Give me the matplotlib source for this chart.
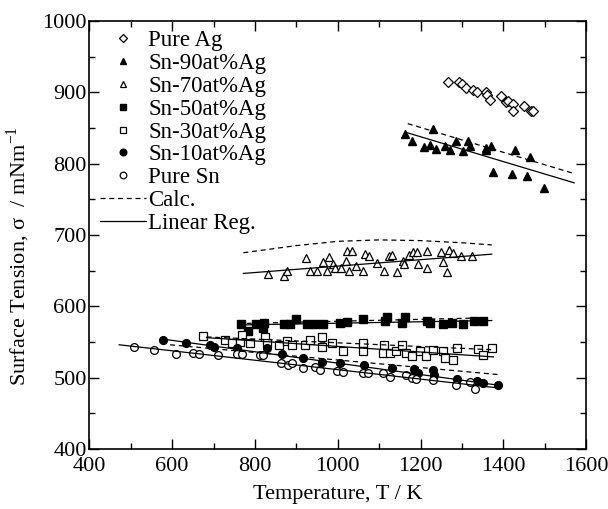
import numpy as np
import matplotlib
matplotlib.use("Agg")
import matplotlib.pyplot as plt
from matplotlib.ticker import MultipleLocator

plt.rcParams['font.family'] = ['Liberation Serif', 'DejaVu Serif']
plt.rcParams['mathtext.fontset'] = 'custom'
plt.rcParams['mathtext.rm'] = 'Liberation Serif'

# measured points (T / K, sigma / mN m^-1)
ag_T = [1266, 1293, 1300, 1310, 1326, 1336, 1358, 1361, 1368, 1394, 1407, 1412, 1423, 1424, 1450, 1466, 1472]
ag_s = [915, 915, 911, 906, 903, 900, 901, 896, 889, 894, 886, 888, 883, 874, 880, 874, 873]

sn90_T = [1163, 1180, 1209, 1223, 1231, 1237, 1260, 1272, 1286, 1303, 1315, 1320, 1357, 1358, 1370,
          1376, 1420, 1428, 1456, 1464, 1499]
sn90_s = [842, 832, 823, 826, 848, 820, 825, 819, 832, 817, 831, 825, 822, 819, 825,
          788, 786, 819, 783, 809, 766]

sn70_T = [831, 869, 877, 923, 933, 951, 964, 973, 980, 989, 993, 1007, 1019, 1023, 1034, 1026, 1043,
          1060, 1066, 1076, 1096, 1112, 1125, 1131, 1144, 1157, 1161, 1173, 1183, 1191, 1195, 1216,
          1216, 1250, 1254, 1268, 1265, 1279, 1297, 1324]
sn70_s = [645, 643, 649, 667, 650, 650, 662, 650, 669, 659, 654, 653, 663, 678, 678, 649, 656,
          649, 673, 671, 661, 649, 670, 672, 648, 664, 659, 672, 676, 676, 659, 678,
          653, 676, 662, 679, 648, 675, 670, 671]

sn50_T = [766, 784, 803, 820, 823, 869, 885, 899, 925, 945, 965, 1006, 1022, 1062, 1114, 1118,
          1155, 1163, 1215, 1223, 1255, 1275, 1303, 1330, 1350]
sn50_s = [575, 565, 575, 570, 577, 575, 575, 582, 575, 575, 575, 576, 578, 582, 579, 585,
          576, 585, 579, 576, 575, 577, 575, 579, 580]

sn30_T = [675, 728, 744, 764, 768, 788, 824, 828, 857, 877, 889, 921, 932, 961, 961, 985, 1012,
          1062, 1062, 1112, 1109, 1126, 1141, 1155, 1165, 1179, 1199, 1213, 1229, 1255, 1259,
          1279, 1287, 1340, 1350, 1372]
sn30_s = [558, 553, 548, 550, 559, 548, 557, 549, 546, 551, 546, 546, 553, 557, 543, 548, 537,
          548, 537, 545, 534, 534, 537, 545, 535, 530, 537, 530, 539, 537, 528,
          525, 542, 540, 532, 542]

sn10_T = [577, 633, 692, 700, 756, 828, 866, 917, 961, 1006, 1064, 1130, 1184, 1189, 1195,
          1229, 1233, 1287, 1336, 1350, 1388]
sn10_s = [553, 548, 546, 543, 541, 542, 533, 527, 522, 521, 518, 514, 512, 507, 506,
          510, 504, 498, 495, 492, 489]

sn_T = [509, 556, 609, 651, 665, 710, 756, 768, 812, 820, 863, 880, 889, 917, 945, 957, 998,
        1012, 1060, 1072, 1110, 1126, 1165, 1179, 1189, 1231, 1286, 1320, 1332]
sn_s = [543, 538, 533, 535, 533, 531, 533, 533, 532, 532, 520, 518, 520, 514, 515, 510, 509,
        508, 506, 506, 506, 501, 504, 500, 498, 497, 490, 494, 484]

# calculated curves (dashed)
calc90_T = [1169, 1571]
calc90_s = [856, 786]
calc70_T = [772, 900, 1000, 1100, 1200, 1300, 1372]
calc70_s = [675, 685, 691, 693, 692, 689, 686]
calc50_T = [780, 1372]
calc50_s = [576, 584]
calc30_T = [683, 1376]
calc30_s = [557, 539]
calc10_T = [595, 1392]
calc10_s = [546, 504]

# linear regression lines (solid)
reg90_T = [1169, 1571]
reg90_s = [843, 773]
reg70_T = [772, 1372]
reg70_s = [646, 673]
reg50_T = [780, 1372]
reg50_s = [574, 580]
reg30_T = [683, 1376]
reg30_s = [556, 529]
reg10_T = [577, 1392]
reg10_s = [554, 489]
regsn_T = [472, 1380]
regsn_s = [546, 486]

fig = plt.figure(figsize=(6.08, 5.09), dpi=100)
ax = fig.add_axes([0.147, 0.118, 0.817, 0.841])

ms = 5.6
ax.plot(ag_T, ag_s, 'D', ms=5, mfc='white', mec='black', mew=0.9, label='Pure Ag')
ax.plot(sn90_T, sn90_s, '^', ms=ms, color='black', label='Sn-90at%Ag')
ax.plot(sn70_T, sn70_s, '^', ms=ms, mfc='white', mec='black', mew=0.9, label='Sn-70at%Ag')
ax.plot(sn50_T, sn50_s, 's', ms=ms, color='black', label='Sn-50at%Ag')
ax.plot(sn30_T, sn30_s, 's', ms=ms, mfc='white', mec='black', mew=0.9, label='Sn-30at%Ag')
ax.plot(sn10_T, sn10_s, 'o', ms=ms, color='black', label='Sn-10at%Ag')
ax.plot(sn_T, sn_s, 'o', ms=ms, mfc='white', mec='black', mew=0.9, label='Pure Sn')

for T, s in [(calc90_T, calc90_s), (calc70_T, calc70_s), (calc50_T, calc50_s),
             (calc30_T, calc30_s), (calc10_T, calc10_s)]:
    ax.plot(T, s, '--', color='black', lw=0.9, dashes=(4, 3))
for T, s in [(reg90_T, reg90_s), (reg70_T, reg70_s), (reg50_T, reg50_s),
             (reg30_T, reg30_s), (reg10_T, reg10_s), (regsn_T, regsn_s)]:
    ax.plot(T, s, '-', color='black', lw=0.9)

ax.plot([], [], '--', color='black', lw=0.9, dashes=(4, 3), label='Calc.')
ax.plot([], [], '-', color='black', lw=0.9, label='Linear Reg.')

ax.set_xlim(400, 1600)
ax.set_ylim(400, 1000)
ax.xaxis.set_major_locator(MultipleLocator(200))
ax.xaxis.set_minor_locator(MultipleLocator(100))
ax.yaxis.set_major_locator(MultipleLocator(100))
ax.yaxis.set_minor_locator(MultipleLocator(50))
ax.tick_params(which='both', direction='in', top=True, right=True, labelsize=16, width=1)
ax.tick_params(which='major', length=7)
ax.tick_params(axis='x', which='major', pad=6)
ax.tick_params(axis='y', which='major', pad=2)
ax.tick_params(which='minor', length=4)
for sp in ax.spines.values():
    sp.set_linewidth(1.2)

ax.set_xlabel('Temperature, T / K', fontsize=16, labelpad=6)
ax.set_ylabel('Surface Tension, σ  / mNm$^{-1}$', fontsize=16)
ax.yaxis.set_label_coords(-0.115, 0.45)

ax.legend(loc='upper left', frameon=False, fontsize=16.5, markerscale=0.85, handlelength=2.0,
          handletextpad=0.1, labelspacing=0.08, borderaxespad=0, borderpad=0.4,
          bbox_to_anchor=(0.003, 1.0))

fig.savefig('out.png', dpi=100)
